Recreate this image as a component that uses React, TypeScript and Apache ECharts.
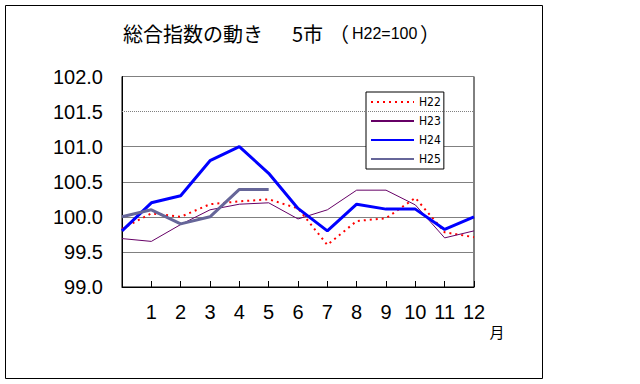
import React, { useEffect, useRef } from 'react';
import * as echarts from 'echarts';

// x categories: leading point (no label) then months 1..12
const months = ['', '1', '2', '3', '4', '5', '6', '7', '8', '9', '10', '11', '12'];
const seriesNames = ['H22', 'H23', 'H24', 'H25'];
const h22 = [99.83, 100.05, 100.0, 100.18, 100.22, 100.25, 100.12, 99.6, 99.94, 99.98, 100.27, 99.78, 99.71];
const h23 = [99.69, 99.65, 99.89, 100.1, 100.18, 100.2, 99.97, 100.1, 100.38, 100.38, 100.17, 99.7, 99.8];
const h24 = [99.8, 100.2, 100.3, 100.8, 101.0, 100.62, 100.12, 99.8, 100.18, 100.11, 100.11, 99.82, 100.0];
const h25 = [100.0, 100.1, 99.9, 100.0, 100.39, 100.39, null, null, null, null, null, null, null];
const yMin = 99.0;
const yMax = 102.0;
const yStep = 0.5;
const dottedGridValue = 101.5;
const titleMain = '総合指数の動き';
const titleCity = '5市';
const titleOpen = '（';
const titleBase = 'H22=100';
const titleClose = '）';
const unitLabel = '月';

const latin = '"Liberation Sans", Arial, sans-serif';
const cjk = '"Noto Sans CJK JP", "Noto Sans CJK SC", sans-serif';

export default function App() {
  const ref = useRef<HTMLDivElement>(null);
  useEffect(() => {
    if (!ref.current) return;
    const chart = echarts.init(ref.current, null, { renderer: 'svg' });
    const gray = '#808080';
    const option: any = {
      animation: false,
      backgroundColor: '#ffffff',
      grid: {
        left: 122,
        right: 166,
        top: 76.5,
        bottom: 97,
        show: true,
        borderColor: '#000',
        borderWidth: 1,
        backgroundColor: 'transparent',
      },
      legend: {
        orient: 'vertical',
        left: 366,
        top: 92,
        data: seriesNames,
        itemWidth: 43,
        itemHeight: 14,
        itemGap: 7,
        padding: [4, 3, 4, 4],
        borderColor: '#000',
        borderWidth: 1,
        backgroundColor: '#fff',
        selectedMode: false,
        itemStyle: { opacity: 0, borderWidth: 0 },
        textStyle: { fontSize: 12, color: '#000', fontFamily: '"DejaVu Sans Condensed", ' + latin },
      },
      xAxis: {
        type: 'category',
        data: months,
        boundaryGap: false,
        axisLine: { show: true, lineStyle: { color: '#000', width: 1 } },
        axisTick: { show: true, inside: true, length: 6, interval: 0, lineStyle: { color: '#000' } },
        axisLabel: { interval: 0, margin: 15, fontSize: 20, color: '#000', fontFamily: latin },
        splitLine: { show: false },
      },
      yAxis: {
        type: 'value',
        min: yMin,
        max: yMax,
        interval: yStep,
        axisLine: { show: true, lineStyle: { color: '#000', width: 1 } },
        axisTick: { show: false },
        axisLabel: {
          margin: 19,
          fontSize: 20,
          color: '#000',
          fontFamily: latin,
          formatter: (v: number) => v.toFixed(1),
        },
        splitLine: {
          show: true,
          showMinLine: true,
          showMaxLine: true,
          lineStyle: { color: [gray, gray, gray, gray, gray, 'transparent', gray], width: 1 },
        },
      },
      series: [
        {
          name: 'H22',
          type: 'line',
          data: h22,
          symbol: 'none',
          showSymbol: false,
          color: '#ff0000',
          lineStyle: { color: '#ff0000', width: 2, type: [2, 4] },
          z: 2,
          markLine: {
            silent: true,
            symbol: 'none',
            label: { show: false },
            lineStyle: { color: gray, type: [1, 1], width: 1 },
            data: [{ yAxis: dottedGridValue }],
          },
        },
        {
          name: 'H23',
          type: 'line',
          data: h23,
          symbol: 'none',
          showSymbol: false,
          color: '#660066',
          lineStyle: { color: '#660066', width: 1 },
          z: 3,
        },
        {
          name: 'H24',
          type: 'line',
          data: h24,
          symbol: 'none',
          showSymbol: false,
          color: '#0000ff',
          lineStyle: { color: '#0000ff', width: 3 },
          z: 4,
        },
        {
          name: 'H25',
          type: 'line',
          data: h25,
          symbol: 'none',
          showSymbol: false,
          connectNulls: false,
          color: '#666699',
          lineStyle: { color: '#666699', width: 3 },
          z: 5,
        },
      ],
      graphic: [
        {
          type: 'rect',
          shape: { x: 5.5, y: 5.5, width: 537, height: 373 },
          style: { fill: 'none', stroke: '#000', lineWidth: 1 },
          silent: true,
          z: -1,
        },
        {
          type: 'text',
          x: 123,
          y: 33,
          style: { text: titleMain, font: '20px ' + cjk, fill: '#000', textVerticalAlign: 'middle' },
        },
        {
          type: 'text',
          x: 292,
          y: 33,
          style: { text: titleCity, font: '20px ' + cjk, fill: '#000', textVerticalAlign: 'middle' },
        },
        {
          type: 'text',
          x: 329,
          y: 33,
          style: { text: titleOpen, font: '20px ' + cjk, fill: '#000', textVerticalAlign: 'middle' },
        },
        {
          type: 'text',
          x: 352,
          y: 33,
          style: { text: titleBase, font: '16px ' + latin, fill: '#000', textVerticalAlign: 'middle' },
        },
        {
          type: 'text',
          x: 420,
          y: 33,
          style: { text: titleClose, font: '20px ' + cjk, fill: '#000', textVerticalAlign: 'middle' },
        },
        {
          type: 'text',
          x: 497,
          y: 331,
          style: { text: unitLabel, font: '15px ' + cjk, fill: '#000', textAlign: 'center', textVerticalAlign: 'middle' },
        },
      ],
    };
    chart.setOption(option);
    return () => chart.dispose();
  }, []);
  return (
    <div
      ref={ref}
      style={{ position: 'fixed', left: 0, top: 0, width: 640, height: 384, background: '#fff' }}
    />
  );
}
